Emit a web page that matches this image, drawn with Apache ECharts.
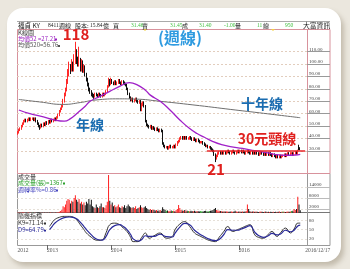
<!DOCTYPE html>
<html><head><meta charset="utf-8">
<script src="https://cdn.jsdelivr.net/npm/echarts@6/dist/echarts.min.js"></script>
<style>
html,body{margin:0;padding:0;width:350px;height:269px;overflow:hidden;background:#ebe7de;}
#card{position:absolute;left:7px;top:8px;width:334px;height:254px;background:#fff;border-radius:16px;box-shadow:3px 4px 5px rgba(120,105,80,0.35);}
#chart{position:absolute;left:0;top:0;width:350px;height:269px;}
</style></head><body><div id="card"></div><div id="chart"></div>
<script>
// ---------- data (weekly, starting week 2012/07/21) ----------
const startWeek = [2012, 7, 21];
const opens = [
44,45,47,48,50,52,54,55,54,55, 56,55,56,56,55,56,54,52,50,49,
51,50,52,51,53,52,54,53,55,54, 55,56,55,57,59,62,64,66,70,75,
79,86,93,98,96,101,96,104,110,105, 100,104,96,102,95,98,92,88,84,80,
78,76,75,74,76,75,74,76,75,74, 76,75,76,78,82,86,84,87,85,84,
86,84,85,87,85,84,86,85,84,83, 80,76,73,71,72,70,71,72,70,69,
70,63,68,69,66,54,51,50,49,50, 48,49,48,47,48,47,46,47,46,36,
34,33,33,32,33,34,33,33,34,33, 35,37,38,40,41,40,41,40,41,40,
40,41,40,39,40,39,38,39,38,37, 37,37,36,35,34,34,33,33,32,31,
30,27,24,26,28,29,28,29,28,29, 28,29,30,29,28,29,30,29,28,29,
30,29,30,29,30,29,28,29,30,29, 28,29,28,29,28,29,28,27,28,29,
28,27,28,27,28,27,28,27,26,27, 26,25,26,25,26,25,26,26,27,26,
27,28,27,28,28,27,28,29,28,33, 32.4];
const closes = [
45,47,48,50,52,54,55,54,55,56, 55,56,56,55,56,54,52,50,49,51,
50,52,51,53,52,54,53,55,54,55, 56,55,57,59,62,64,66,70,75,79,
86,93,98,96,101,96,104,110,105,100, 104,96,102,95,98,92,88,84,80,78,
76,75,74,76,75,74,76,75,74,76, 75,76,78,82,86,84,87,85,84,86,
84,85,87,85,84,86,85,84,83,80, 76,73,71,72,70,71,72,70,69,70,
63,68,69,66,54,51,50,49,50,48, 49,48,47,48,47,46,47,46,36,34,
33,33,32,33,34,33,33,34,33,35, 37,38,40,41,40,41,40,41,40,40,
41,40,39,40,39,38,39,38,37,37, 37,36,35,34,34,33,33,32,31,30,
27,24,26,28,29,28,29,28,29,28, 29,30,29,28,29,30,29,28,29,30,
29,30,29,30,29,28,29,30,29,28, 29,28,29,28,29,28,27,28,29,28,
27,28,27,28,27,28,27,26,27,26, 25,26,25,26,25,26,26,27,26,27,
28,27,28,28,27,28,29,28,30,32.4, 31.4];
const highs = [
46,48,49,51,53,55,56,56,56,57, 57,57,57,57,57,57,55,53,51,52,
52,53,53,54,54,55,55,56,56,56, 57,57,58,60,63,65,67,72,77,81,
88,96,102,100,104,102,108,118,112,106, 114,105,104,103,100,99,93,89,85,81,
79,77,76,77,77,76,77,77,76,77, 77,77,79,83,89,88,89,88,86,87,
87,86,88,88,86,87,87,86,85,84, 81,77,74,73,73,72,73,73,71,71,
71,69,70,70,67,55,52,51,51,51, 50,50,49,49,49,48,48,48,47,37,
35,34,34,34,35,35,34,35,35,36, 38,39,41,42,42,42,42,42,42,41,
42,42,41,41,41,40,40,40,39,38, 38,38,37,36,35,35,34,34,33,32,
31,28,27,29,30,30,30,30,30,30, 30,31,31,30,30,31,31,30,30,31,
31,31,31,31,31,30,30,31,31,30, 30,30,30,30,30,30,29,29,30,30,
29,29,29,29,29,29,29,28,28,28, 27,27,27,27,27,27,27,28,28,28,
29,29,29,29,29,29,30,30,31,35, 33];
const lows = [
43,44,46,47,49,51,53,53,53,54, 54,54,55,54,54,53,51,49,47,48,
49,49,50,50,51,51,52,52,53,53, 54,54,54,56,58,61,63,65,69,74,
78,84,90,92,94,94,94,100,100,98, 98,94,94,93,93,90,86,82,78,76,
74,73,72,73,74,73,73,74,73,73, 74,74,75,77,81,82,83,84,83,83,
83,83,84,84,83,83,84,83,82,79, 75,72,70,70,69,69,70,69,68,68,
62,62,66,65,53,50,49,48,48,47, 47,47,46,46,46,45,45,45,35,33,
32,32,31,31,32,32,32,32,32,32, 34,36,37,39,39,39,39,39,39,39,
39,39,38,38,38,37,37,37,36,36, 36,35,34,33,33,32,32,31,30,29,
26,21,23,25,27,27,27,27,27,27, 27,28,28,27,27,28,28,27,27,28,
28,28,28,28,28,27,27,28,28,27, 27,27,27,27,27,27,26,26,27,27,
26,26,26,26,26,26,26,25,25,25, 24,24,24,24,24,24,25,25,25,25,
26,26,26,27,26,26,27,27,27,30.5, 30.5];
const volumes = [
150,120,180,160,200,180,150,140,160,180, 150,160,140,150,160,150,180,200,220,160,
150,140,160,150,160,150,160,180,160,150, 160,150,180,300,500,900,1500,3500,3000,4500,
6500,7500,7000,5000,6500,6000,8000,9500,7000,6000, 7500,5000,6000,4500,5500,4000,6000,5000,7500,4500,
7000,3500,3000,2500,4500,3000,2500,3500,5000,3000, 3000,2500,4000,6000,20500,6500,4500,5500,3500,4000,
3000,3500,4500,3000,2500,3500,3000,4000,2500,3500, 4500,3500,3000,2500,3000,2500,3500,2000,2500,3000,
4000,3000,2500,3000,3500,2500,2000,1500,2000,1500, 1800,1500,1200,1500,1000,1200,1500,1000,3000,2000,
1500,1000,1200,800,1000,1200,900,1000,800,1500, 2000,4200,2500,1500,1200,1000,1500,1200,1000,900,
800,1000,900,800,1000,700,900,800,700,900, 800,700,900,1000,800,700,900,1000,1200,1500,
2000,2500,1500,1200,1000,900,800,700,800,600, 700,600,500,600,700,500,600,1000,600,500,
700,600,500,600,500,700,900,4500,2000,800, 500,600,700,500,600,500,400,500,600,500,
400,500,600,400,500,400,500,400,500,400, 500,400,500,600,400,500,600,500,400,500,
600,500,700,900,1000,2000,1500,2000,8700,4500, 1367];
// moving averages: [week index, value]
const ma52 = [[1,63],[10,60],[21,57.5],[30,55],[38,54],[43,56],[48,60],[55,66],[59,70],[67,74],[75,78],[83,82],[91,85],[97,83.5],[104,79],[108,75],[116,70],[124,63],[132,55],[140,48],[146,44],[152,41],[159,37.5],[166,35],[173,33.5],[183,32],[191,30.5],[199,29.3],[209,27.3],[218,26.5],[226,26.7],[230,27.21]];
const ma520 = [[1,71.5],[18,69.5],[37,67.5],[51,69],[63,71],[83,72],[96,71.8],[116,70],[148,66.5],[173,63.5],[197,60.7],[230,56.76]];
// KD (9-week)
const kLine = [[26,60],[28,72],[30,82],[34,90],[38,93],[42,93],[45,91],[48,82],[51,66],[54,50],[56,39],[60,25],[63,17],[66,15],[69,17],[72,40],[75,66],[79,71],[83,66],[86,55],[89,44],[92,25],[94,11],[98,11],[101,25],[104,39],[107,22],[111,30],[116,39],[121,22],[126,28],[128,49],[132,68],[136,76],[140,60],[144,39],[148,30],[152,22],[156,15],[161,11],[164,25],[168,45],[171,60],[175,44],[179,50],[182,55],[186,62],[189,66],[193,33],[196,25],[200,22],[204,35],[207,44],[211,28],[214,40],[218,55],[222,39],[225,52],[228,71],[230,71.14]];
const dLine = [[26,50],[28,60],[30,70],[34,82],[38,89],[42,91],[45,90],[48,85],[51,74],[54,60],[56,50],[60,33],[63,22],[66,17],[69,16],[72,28],[75,50],[79,63],[83,66],[86,60],[89,50],[92,34],[94,20],[98,13],[101,18],[104,30],[107,28],[111,28],[116,35],[121,27],[126,26],[128,38],[132,58],[136,70],[140,66],[144,48],[148,36],[152,27],[156,19],[161,14],[164,18],[168,35],[171,50],[175,48],[179,48],[182,52],[186,58],[189,63],[193,42],[196,31],[200,25],[204,30],[207,38],[211,33],[214,36],[218,48],[222,43],[225,48],[228,62],[230,64.79]];
// neckline
const neckValue = 30;
const neckRange = [154, 234];
// axis ticks
const priceTicks = [30,40,50,60,70,80,90,100,110];
const volTicks = [2000,8000,14000];
const kdTicks = [20,50,80];
const endLabel = '2016/12/17';
const padWeeks = 5;

// ---------- build ----------
const nWeeks = closes.length;
const cats = [];
const yearStart = {};
const t0 = Date.UTC(startWeek[0], startWeek[1]-1, startWeek[2]);
for (let i = 0; i < nWeeks + padWeeks; i++) {
  if (i < nWeeks) {
    const d = new Date(t0 + i*7*864e5);
    const y = d.getUTCFullYear();
    cats.push(y + '/' + (d.getUTCMonth()+1) + '/' + d.getUTCDate());
    if (i === 0 || y !== new Date(t0 + (i-1)*7*864e5).getUTCFullYear()) yearStart[i] = String(y);
  } else cats.push('');
}
const candleData = closes.map((c,i)=>[opens[i], c, lows[i], highs[i]]);
const volData = volumes.map((v,i)=>({value:v, itemStyle:{color: closes[i]>opens[i] ? '#ff2222' : (closes[i]<opens[i] ? '#111' : '#22aa22')}}));

const CJK = '"Noto Sans CJK TC", "Noto Sans CJK SC", sans-serif';
const SERIF = '"Liberation Serif", "DejaVu Serif", serif';
const pink = '#d8929c';
const grids = [
  {left:17, right:43, top:30, height:143},
  {left:17, right:43, top:174, height:38.7},
  {left:17, right:43, top:213, height:32}
];
const xAxes = [0,1,2].map(g => ({
  type:'category', gridIndex:g, data:cats, boundaryGap:true,
  axisLine:{show:false},
  axisTick: g===2 ? {show:true, alignWithLabel:true, length:5, interval:(i)=> yearStart[i]!==undefined && i>0, lineStyle:{color:'#666'}} : {show:false},
  axisLabel: g===2 ? {show:true, interval:(i)=> yearStart[i]!==undefined || i===nWeeks-1,
     formatter:(v,i)=> i===nWeeks-1 ? '{e|'+endLabel+'}' : (yearStart[i]||''),
     align:'left', fontSize:5.5, color:'#555', margin:3, fontFamily:SERIF,
     rich:{e:{padding:[0,0,0,5], fontSize:5.5, color:'#555', fontFamily:SERIF}}} : {show:false},
  splitLine:{show:false}
}));
const axisLbl = {fontSize:5, color:'#444', margin:2, verticalAlign:'bottom', align:'left', fontFamily:SERIF};
const yAxes = [
  {type:'value', gridIndex:0, position:'right', min:12.2, max:127.5,
   axisLine:{show:false},
   axisTick:{show:true, customValues:priceTicks, length:23, lineStyle:{color:'#999'}},
   axisLabel:Object.assign({customValues:priceTicks, formatter:v=>v.toFixed(2)}, axisLbl),
   splitLine:{show:true, lineStyle:{color:'#e2cdbd', type:[2,2]}}},
  {type:'value', gridIndex:1, position:'right', min:0, max:21000,
   axisLine:{show:false},
   axisTick:{show:true, customValues:volTicks, length:23, lineStyle:{color:'#bbb'}},
   axisLabel:Object.assign({customValues:volTicks, formatter:v=>String(v)}, axisLbl),
   splitLine:{show:true, lineStyle:{color:'#e6e0d8', type:[2,2]}}},
  {type:'value', gridIndex:2, position:'right', min:0, max:104,
   axisLine:{show:false},
   axisTick:{show:false, customValues:kdTicks},
   axisLabel:Object.assign({customValues:kdTicks, formatter:v=>String(v)}, axisLbl, {verticalAlign:'middle'}),
   splitLine:{show:true, lineStyle:{color:'#e6e0d8', type:[2,2]}}}
];

function txt(x, y, t, color, size, weight, align, fam){
  return {type:'text', x:x, y:y, silent:true, z:100, style:{text:t, fill:color, font:(weight||'normal')+' '+size+'px '+(fam||CJK), textAlign:align||'left', textVerticalAlign:'middle'}};
}
const green = '#3cbf3c';
const HY = 25.5;
const graphics = [
  // frames
  {type:'line', shape:{x1:17, y1:21.5, x2:330, y2:21.5}, style:{stroke:'#aaa', lineWidth:1}, silent:true},
  {type:'rect', shape:{x:17.5, y:173.5, width:312.5, height:72}, style:{fill:'none', stroke:'#999', lineWidth:1}, silent:true},
  {type:'line', shape:{x1:17.5, y1:212.5, x2:330, y2:212.5}, style:{stroke:'#777', lineWidth:1}, silent:true},
  {type:'line', shape:{x1:307.5, y1:173.5, x2:307.5, y2:245.5}, style:{stroke:'#999', lineWidth:1}, silent:true},
  {type:'rect', shape:{x:17.5, y:29.5, width:312.5, height:144}, style:{fill:'none', stroke:pink, lineWidth:1}, silent:true},
  {type:'line', shape:{x1:307.5, y1:29.5, x2:307.5, y2:173.5}, style:{stroke:pink, lineWidth:1}, silent:true},
  // header
  txt(18, HY, '福貞 KY', '#222', 6.5), txt(48, HY, '8411', '#222', 5.5, 'normal', 'left', SERIF), txt(59, HY, '週線', '#222', 6),
  txt(75, HY, '股本:', '#222', 6), txt(90, HY, '15.84', '#222', 5.5, 'normal', 'left', SERIF), txt(103, HY, '億', '#222', 6), txt(113, HY, '買', '#222', 6),
  txt(131, HY, '31.46', green, 5.5, 'normal', 'left', SERIF), txt(142, HY, '賣', '#222', 6),
  txt(170, HY, '31.45', green, 5.5, 'normal', 'left', SERIF), txt(182, HY, '成', '#222', 6),
  txt(199, HY, '31.40', green, 5.5, 'normal', 'left', SERIF), txt(224, HY, '-1.00', green, 5.5, 'normal', 'left', SERIF), txt(235, HY, '量', '#222', 6),
  txt(257, HY, '11', green, 5.5, 'normal', 'left', SERIF), txt(263, HY, '總', '#222', 6),
  txt(285, HY, '950', green, 5.5, 'normal', 'left', SERIF), txt(303, HY, '大富資訊', '#222', 6.8),
  {type:'polygon', shape:{points:[[143,29],[147,29],[145,31]]}, style:{fill:'#f2d040'}, silent:true},
  {type:'polygon', shape:{points:[[271,29],[275,29],[273,31]]}, style:{fill:'#f2d040'}, silent:true},
  // panel labels
  txt(18, 32.5, 'K線圖', '#333', 6), txt(18, 38.5, '均價52 =27.21', '#9a1fc0', 6), txt(18, 45, '均價520=56.76', '#555', 6),
  {type:'rect', shape:{x:55, y:38.5, width:2, height:2}, style:{fill:'#9a1fc0'}, silent:true},
  {type:'rect', shape:{x:58, y:45, width:2, height:2}, style:{fill:'#555'}, silent:true},
  txt(18, 176.5, '成交量', '#333', 6), txt(18, 182.5, '成交量(張)=1367', '#2aa02a', 6), txt(18, 189.5, '週轉率%=0.86', '#4848c0', 6),
  {type:'rect', shape:{x:63, y:182.5, width:2, height:2}, style:{fill:'#2aa02a'}, silent:true},
  {type:'rect', shape:{x:56, y:189.5, width:2, height:2}, style:{fill:'#4848c0'}, silent:true},
  txt(18, 216, '隨機指標', '#333', 6), txt(18, 222.5, 'K9=71.14', '#333', 6), txt(18, 229.5, 'D9=64.79', '#2a2a9a', 6),
  {type:'rect', shape:{x:44, y:222.5, width:2, height:2}, style:{fill:'#333'}, silent:true},
  {type:'rect', shape:{x:44, y:229.5, width:2, height:2}, style:{fill:'#2a2a9a'}, silent:true},
  // annotations
  txt(76, 34, '118', '#e0201e', 15, 'bold', 'center'),
  txt(180, 38, '(週線)', '#2f9be0', 16, 'bold', 'center'),
  txt(90, 125, '年線', '#1a6cb0', 14, 'bold', 'center'),
  txt(262, 103.5, '十年線', '#1a6cb0', 14, 'bold', 'center'),
  txt(267, 138.5, '30元頸線', '#e0201e', 14, 'bold', 'center'),
  txt(216, 169.5, '21', '#e0201e', 15, 'bold', 'center')
];

const option = {
  animation:false,
  backgroundColor:'transparent',
  grid:grids, xAxis:xAxes, yAxis:yAxes,
  graphic:graphics,
  series:[
    {type:'candlestick', xAxisIndex:0, yAxisIndex:0, data:candleData, barWidth:1,
     itemStyle:{color:'#ff2a2a', color0:'#111', borderColor:'#ff2a2a', borderColor0:'#111', borderWidth:1}},
    {type:'line', xAxisIndex:0, yAxisIndex:0, data:ma520, smooth:true, symbol:'none', lineStyle:{color:'#6e6e6e', width:1}, z:3},
    {type:'line', xAxisIndex:0, yAxisIndex:0, data:ma52, smooth:true, symbol:'none', lineStyle:{color:'#a020c8', width:1.3}, z:4,
     markLine:{silent:true, symbol:'none', label:{show:false}, lineStyle:{color:'#e8262a', width:1.5, type:'solid'},
       data:[[{coord:[neckRange[0], neckValue]},{coord:[neckRange[1], neckValue]}]]}},
    {type:'bar', xAxisIndex:1, yAxisIndex:1, data:volData, barWidth:1},
    {type:'line', xAxisIndex:2, yAxisIndex:2, data:kLine, smooth:true, symbol:'none', lineStyle:{color:'#333', width:1}},
    {type:'line', xAxisIndex:2, yAxisIndex:2, data:dLine, smooth:true, symbol:'none', lineStyle:{color:'#2a2a9a', width:1.2}}
  ]
};
const chart = echarts.init(document.getElementById('chart'), null, {renderer:'canvas'});
chart.setOption(option);
</script></body></html>
